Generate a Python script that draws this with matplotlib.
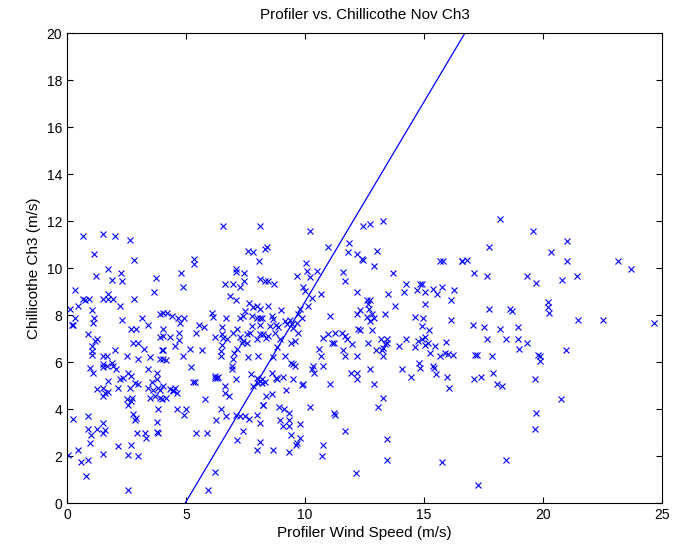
import matplotlib
matplotlib.use("Agg")
import matplotlib.pyplot as plt

plt.rcParams["font.family"] = ["Liberation Sans", "DejaVu Sans"]

# (profiler speed, chillicothe speed) pairs
pts = [
    (0.69, 11.36), (1.53, 11.47), (2.02, 11.36), (2.65, 11.19), (1.14, 10.6), (2.82, 10.36),
    (1.74, 9.96), (2.26, 9.79), (1.21, 9.65), (1.91, 9.48), (2.30, 9.46), (3.74, 9.6),
    (0.34, 9.08), (3.67, 8.97), (0.69, 8.68), (0.76, 8.65), (0.93, 8.68), (0.48, 8.37),
    (1.53, 8.68), (1.74, 8.9), (1.74, 8.68), (1.95, 8.68), (2.82, 8.68), (2.23, 8.37),
    (0.13, 8.25), (1.04, 8.23), (0.34, 7.9), (1.14, 7.9), (1.11, 7.68), (2.30, 7.8),
    (3.17, 7.9), (3.91, 8.07), (0.2, 7.57), (0.27, 7.57), (2.68, 7.4), (2.90, 7.4),
    (3.41, 7.57), (4.02, 7.4), (0.87, 7.19), (1.25, 6.97), (1.18, 6.9), (3.91, 7.08),
    (1.04, 6.69), (1.04, 6.47), (1.04, 6.29), (2.02, 6.52), (2.76, 6.8), (3.0, 6.8),
    (3.24, 6.57), (3.98, 6.54), (1.53, 6.26), (1.7, 6.26), (2.51, 6.26), (3.0, 6.15),
    (3.49, 6.23), (3.91, 6.15),
    (6.57, 11.79), (8.11, 11.79), (7.62, 10.75), (7.83, 10.68), (8.32, 10.82), (8.07, 10.32),
    (5.35, 10.39), (5.35, 10.18), (7.10, 9.96), (7.10, 9.82), (7.44, 9.79), (7.44, 9.46),
    (4.78, 9.79), (6.64, 9.32), (6.99, 9.32), (7.27, 9.18), (8.11, 9.54), (4.86, 9.18),
    (6.85, 8.8), (7.10, 8.65), (7.66, 8.51), (7.83, 8.33), (7.97, 8.37), (8.11, 8.28),
    (7.48, 8.18), (7.38, 7.97), (7.76, 7.97), (7.97, 7.9), (4.05, 8.08), (4.22, 8.11),
    (4.4, 7.97), (4.68, 7.9), (4.75, 7.68), (4.92, 7.9), (6.08, 8.08), (6.15, 7.94),
    (6.68, 7.9), (7.27, 7.9), (8.18, 7.9), (4.02, 7.11), (4.33, 7.08),
    (4.72, 7.26), (4.72, 6.94), (5.56, 7.57), (5.76, 7.51), (5.42, 7.26), (6.5, 7.51),
    (6.5, 7.19), (6.57, 7.04), (6.71, 6.97), (6.22, 7.08), (6.99, 7.26), (7.13, 7.4),
    (7.27, 7.08), (7.41, 6.9), (7.55, 7.19), (7.76, 7.54), (7.69, 7.23), (8.11, 7.57),
    (8.25, 7.19), (7.97, 6.97), (4.54, 6.69), (5.17, 6.57), (5.66, 6.52), (6.5, 6.72),
    (6.46, 6.47), (6.46, 6.26), (7.13, 6.57), (7.02, 6.4), (7.58, 6.8), (7.34, 6.8),
    (4.02, 6.52), (4.89, 6.26), (6.99, 6.15), (7.62, 6.23), (8.04, 6.26),
    (10.21, 11.6), (8.39, 10.89), (10.98, 10.89), (11.86, 11.07), (11.82, 10.68), (12.2, 10.6),
    (12.38, 10.39), (10.03, 10.22), (10.07, 9.89), (10.21, 9.61), (10.49, 9.89), (9.68, 9.65),
    (11.58, 9.82), (11.68, 9.46), (8.32, 9.46), (8.46, 9.46), (8.7, 9.32), (9.9, 9.18),
    (10.0, 9.04), (10.28, 8.75), (10.66, 8.9), (12.17, 8.97), (8.46, 8.37), (8.98, 8.23),
    (9.79, 8.25), (10.14, 8.37), (9.72, 8.04), (9.86, 7.9), (8.11, 7.9), (8.6, 7.97),
    (8.64, 7.83), (8.53, 7.54), (8.78, 7.57), (8.88, 7.51), (9.16, 7.75), (9.23, 7.61),
    (9.37, 7.8), (9.44, 7.61), (9.51, 7.47), (9.65, 7.68), (11.05, 7.97), (12.2, 8.04),
    (12.24, 7.4), (8.11, 7.19), (8.36, 7.04), (8.46, 7.11), (8.74, 7.26), (8.95, 6.97),
    (8.81, 6.66), (9.4, 6.8), (9.58, 6.9), (9.72, 7.26), (10.77, 7.04), (10.98, 7.19),
    (11.26, 7.26), (11.54, 7.26), (11.68, 7.11), (11.78, 6.97), (11.96, 6.76), (11.12, 6.8),
    (11.22, 6.8), (11.61, 6.54), (10.6, 6.57), (10.66, 6.26), (11.68, 6.26), (12.17, 6.26),
    (9.16, 6.26), (8.67, 6.23),
    (12.42, 11.79), (12.73, 11.89), (13.26, 11.99), (13.04, 10.75), (12.42, 10.36), (12.9, 10.08),
    (13.71, 9.79), (15.67, 10.32), (15.81, 10.32), (16.58, 10.32), (14.24, 9.32), (14.83, 9.32),
    (14.9, 9.32), (14.72, 9.08), (15.04, 8.97), (15.36, 9.11), (15.56, 8.9), (15.74, 9.18),
    (16.26, 9.08), (13.5, 8.9), (14.16, 8.97), (16.12, 8.65), (12.59, 8.65), (12.73, 8.65),
    (12.66, 8.47), (12.7, 8.25), (13.78, 8.37), (15.04, 8.47), (12.31, 8.23), (12.59, 7.94),
    (12.8, 8.04), (12.9, 7.9), (12.73, 7.75), (13.36, 8.04), (14.62, 7.94), (14.97, 7.9),
    (16.12, 7.8), (14.9, 7.54), (15.22, 7.37), (12.31, 7.37), (12.8, 7.37), (15.04, 7.08),
    (14.9, 7.0), (14.76, 6.9), (13.18, 6.97), (13.43, 6.97), (13.36, 6.76), (13.29, 6.62),
    (13.22, 6.52), (13.43, 6.83), (12.66, 6.8), (12.98, 6.54), (13.96, 6.69), (14.24, 6.97),
    (14.62, 6.66), (15.18, 6.8), (15.04, 6.72), (15.46, 6.69), (15.92, 6.86), (15.25, 6.4),
    (15.67, 6.26), (15.88, 6.4), (16.02, 6.33), (16.23, 6.29), (13.26, 6.26),
    (18.19, 12.1), (19.59, 11.6), (17.74, 10.89), (20.32, 10.68), (16.58, 10.32), (16.82, 10.36),
    (17.1, 9.79), (17.63, 9.65), (19.31, 9.65), (19.7, 9.36), (20.78, 9.51), (17.74, 8.25),
    (18.61, 8.25), (18.68, 8.18), (20.22, 8.54), (20.22, 8.33), (20.26, 8.08), (17.07, 7.57),
    (17.52, 7.51), (18.19, 7.4), (18.96, 7.51), (17.63, 7.0), (18.44, 6.97), (18.96, 7.0),
    (19.0, 6.57), (19.31, 6.8), (17.14, 6.29), (17.24, 6.29), (17.84, 6.26), (19.8, 6.29),
    (19.87, 6.26),
    (21.02, 11.17), (21.02, 10.32), (23.16, 10.32), (23.68, 9.96), (21.44, 9.65), (21.48, 7.8),
    (22.53, 7.8), (24.66, 7.66), (20.96, 6.54),
    (0.97, 5.77), (1.11, 5.56), (1.53, 5.91), (1.67, 5.84), (1.5, 5.8), (1.88, 5.98),
    (1.95, 5.84), (2.06, 5.7), (2.58, 5.56), (2.68, 5.41), (3.42, 5.7), (3.77, 5.56),
    (2.23, 5.27), (2.37, 5.31), (1.74, 5.2), (2.86, 5.13), (3.0, 5.09), (3.56, 5.17),
    (3.77, 5.27), (1.25, 4.84), (1.53, 4.92), (1.6, 4.7), (1.74, 4.75), (1.53, 4.56),
    (2.16, 4.92), (2.65, 4.92), (2.72, 4.49), (2.51, 4.42), (2.58, 4.2), (2.68, 4.35),
    (3.42, 4.92), (3.63, 4.8), (3.84, 4.92), (3.91, 4.8), (3.7, 4.56), (3.49, 4.49),
    (3.91, 4.49), (3.84, 3.99), (3.98, 4.42), (0.24, 3.6), (0.9, 3.7), (2.79, 3.78),
    (2.86, 3.56), (2.9, 3.64), (3.8, 3.46), (0.9, 3.18), (1.25, 3.18), (1.53, 3.42),
    (1.6, 3.13), (1.53, 2.99), (1.0, 2.89), (0.97, 2.57), (2.96, 2.99), (3.28, 2.99),
    (3.32, 2.78), (3.77, 3.04), (3.84, 2.99), (0.48, 2.28), (0.02, 2.07), (1.53, 2.1),
    (2.16, 2.42), (2.68, 2.47), (2.58, 2.07), (3.0, 2.0), (0.58, 1.75), (0.9, 1.85),
    (0.8, 1.18), (2.58, 0.57),
    (4.02, 6.13), (4.16, 6.09), (6.92, 5.84), (6.92, 5.7), (5.2, 5.8), (7.72, 5.51),
    (7.97, 5.34), (8.18, 5.27), (8.04, 5.13), (8.11, 5.2), (7.8, 4.99), (7.1, 5.27),
    (6.22, 5.41), (6.29, 5.34), (6.22, 5.31), (6.36, 5.37), (5.28, 5.17), (5.38, 5.17),
    (4.05, 4.99), (4.33, 4.84), (4.47, 4.8), (4.54, 4.92), (4.61, 4.7), (4.44, 4.77),
    (4.16, 4.46), (6.64, 4.99), (6.64, 4.7), (6.82, 4.56), (5.8, 4.42), (4.64, 3.99),
    (5.0, 4.03), (4.92, 3.75), (6.46, 4.03), (6.26, 3.56), (6.68, 3.7), (7.1, 3.75),
    (7.27, 3.7), (7.48, 3.7), (7.66, 3.6), (8.0, 3.75), (8.11, 3.42), (8.25, 4.2),
    (5.42, 2.99), (5.87, 2.99), (7.38, 3.09), (7.16, 2.71), (8.11, 2.61), (8.0, 2.28),
    (6.22, 1.35), (5.94, 0.57),
    (9.4, 5.98), (9.51, 5.91), (9.58, 5.84), (10.35, 5.84), (10.28, 5.7), (10.38, 5.56),
    (10.77, 5.84), (8.6, 5.56), (8.78, 5.34), (8.84, 5.27), (9.09, 5.37), (9.51, 5.27),
    (8.18, 5.13), (8.32, 5.17), (9.86, 5.03), (9.9, 5.09), (11.05, 5.09), (11.92, 5.56),
    (12.2, 5.56), (12.2, 5.27), (9.2, 4.8), (8.36, 4.56), (8.6, 4.66), (8.22, 4.17),
    (8.92, 4.09), (9.12, 3.99), (9.34, 3.85), (8.95, 3.56), (9.34, 3.56), (9.06, 3.28),
    (9.34, 3.28), (9.79, 3.38), (10.21, 4.09), (11.22, 3.85), (11.26, 3.75), (9.4, 2.89),
    (9.79, 2.78), (9.68, 2.57), (9.62, 2.49), (8.64, 2.28), (9.34, 2.18), (10.77, 2.47),
    (10.7, 2.0), (11.68, 3.09), (12.14, 1.28),
    (12.73, 5.7), (14.06, 5.7), (14.8, 5.98), (14.83, 5.77), (15.36, 5.84), (15.42, 5.74),
    (15.5, 5.51), (14.44, 5.37), (15.95, 5.37), (16.06, 4.89), (12.9, 5.09), (13.26, 4.46),
    (13.08, 4.09), (13.43, 2.75), (13.43, 1.85), (15.74, 1.75),
    (19.87, 6.05), (17.91, 5.56), (17.1, 5.27), (17.38, 5.37), (18.08, 5.09), (18.26, 4.99),
    (19.66, 5.27), (20.74, 4.42), (19.7, 3.85), (19.66, 3.18), (18.44, 1.85), (17.28, 0.76),
]
profiler = [p[0] for p in pts]
chillicothe = [p[1] for p in pts]

# reference line end points
line_x = [4.96, 16.72]
line_y = [0.0, 20.0]

fig = plt.figure(figsize=(6.73, 5.56), dpi=100)
ax = fig.add_axes([0.0996, 0.0948, 0.8841, 0.8458])

ax.plot(profiler, chillicothe, "x", color="#0000ff", markersize=5, markeredgewidth=0.8)
ax.plot(line_x, line_y, "-", color="#0000ff", linewidth=0.9)

ax.set_xlim(0, 25)
ax.set_ylim(0, 20)
ax.set_xticks(range(0, 26, 5))
ax.set_yticks(range(0, 21, 2))
ax.tick_params(direction="in", top=True, right=True, labelsize=10, length=4)
for s in ax.spines.values():
    s.set_linewidth(0.8)

ax.set_title("Profiler vs. Chillicothe Nov Ch3", fontsize=11, pad=10)
ax.set_xlabel("Profiler Wind Speed (m/s)", fontsize=11, labelpad=3)
ax.set_ylabel("Chillicothe Ch3 (m/s)", fontsize=11)

fig.savefig("out.png", dpi=100)
